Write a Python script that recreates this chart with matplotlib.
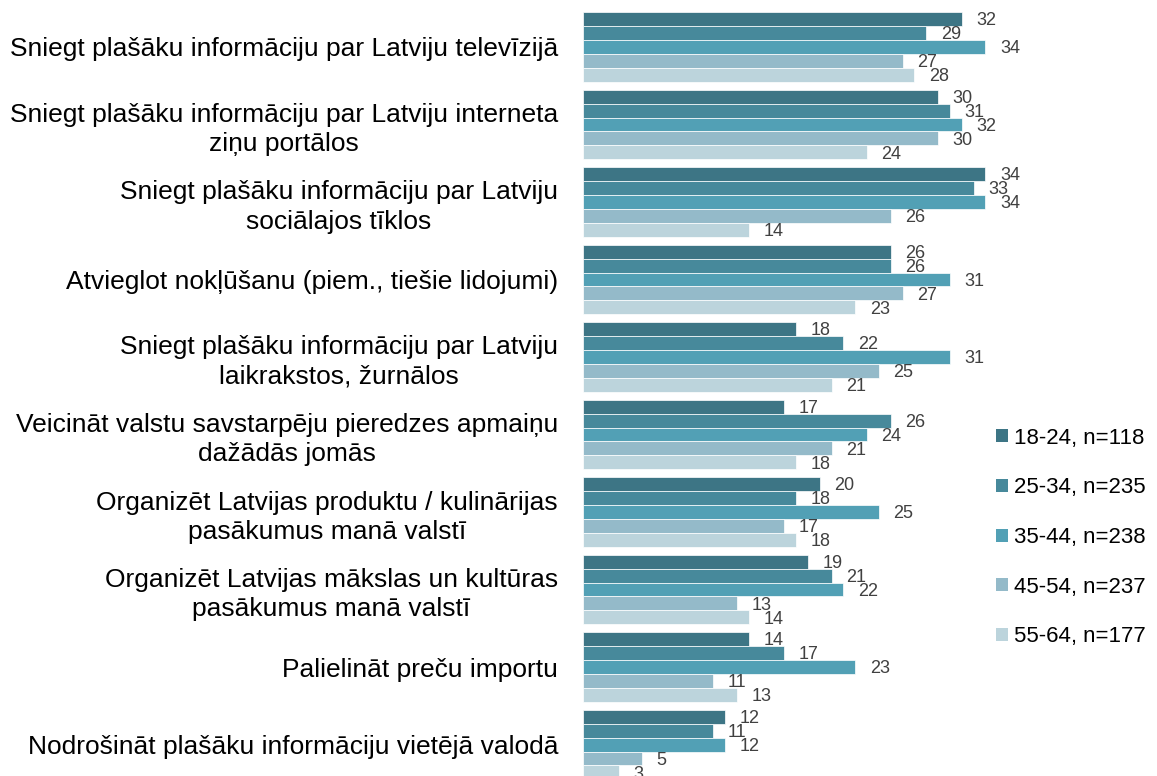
import matplotlib.pyplot as plt
from matplotlib.patches import Patch
import numpy as np

plt.rcParams['font.family'] = ['Liberation Sans', 'DejaVu Sans']

categories = [
    "Sniegt plašāku informāciju par Latviju televīzijā",
    "Sniegt plašāku informāciju par Latviju interneta\nziņu portālos",
    "Sniegt plašāku informāciju par Latviju\nsociālajos tīklos",
    "Atvieglot nokļūšanu (piem., tiešie lidojumi)",
    "Sniegt plašāku informāciju par Latviju\nlaikrakstos, žurnālos",
    "Veicināt valstu savstarpēju pieredzes apmaiņu\ndažādās jomās",
    "Organizēt Latvijas produktu / kulinārijas\npasākumus manā valstī",
    "Organizēt Latvijas mākslas un kultūras\npasākumus manā valstī",
    "Palielināt preču importu",
    "Nodrošināt plašāku informāciju vietējā valodā",
]

series_names = ["18-24, n=118", "25-34, n=235", "35-44, n=238",
                "45-54, n=237", "55-64, n=177"]

age_18_24 = [32, 30, 34, 26, 18, 17, 20, 19, 14, 12]
age_25_34 = [29, 31, 33, 26, 22, 26, 18, 21, 17, 11]
age_35_44 = [34, 32, 34, 31, 31, 24, 25, 22, 23, 12]
age_45_54 = [27, 30, 26, 27, 25, 21, 17, 13, 11, 5]
age_55_64 = [28, 24, 14, 23, 21, 18, 18, 14, 13, 3]

colors = ["#3d7585", "#47899b", "#52a0b5", "#94bac9", "#bcd4dc"]


def main():
    series = [age_18_24, age_25_34, age_35_44, age_45_54, age_55_64]

    fig = plt.figure(figsize=(11.57, 7.76), dpi=100)
    ax = fig.add_axes([583 / 1157, 0, 1 - 583 / 1157, 1])

    y = np.arange(len(categories))
    bh = 0.18
    for j, vals in enumerate(series):
        pos = y + (j - 2) * bh
        ax.barh(pos, vals, height=bh, color=colors[j],
                edgecolor="white", linewidth=0.5)
        for p, v in zip(pos, vals):
            ax.annotate(str(v), (v, p), xytext=(10.5, -1.2),
                        textcoords="offset points", ha="left", va="center",
                        fontsize=13, color="#404040")

    ax.set_xlim(0, 48.5)
    ax.set_ylim(9.406, -0.606)
    ax.set_yticks(y)
    ax.set_yticklabels(categories, fontsize=19)
    for lbl in ax.get_yticklabels():
        lbl.set_multialignment("center")
        lbl.set_linespacing(1.27)
    ax.tick_params(axis="y", length=0, pad=18)
    ax.set_xticks([])
    for s in ax.spines.values():
        s.set_visible(False)

    handles = [Patch(facecolor=c, edgecolor="none") for c in colors]
    fig.legend(handles, series_names, loc="center left",
               bbox_to_anchor=(996 / 1157, 1 - 537.5 / 776),
               frameon=False, fontsize=16, borderpad=0, borderaxespad=0,
               handlelength=0.54, handleheight=0.54, handletextpad=0.27,
               labelspacing=1.29)

    fig.savefig("out.png", dpi=100)


if __name__ == "__main__":
    main()
